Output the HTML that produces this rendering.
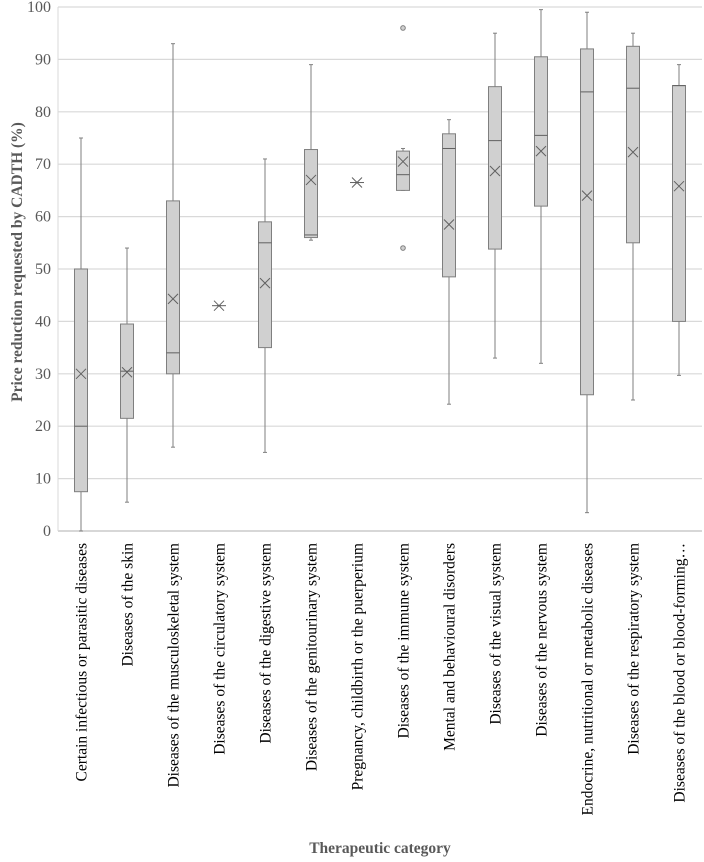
<!DOCTYPE html>
<html><head><meta charset="utf-8"><style>
body{margin:0;background:#fff}
svg text{font-family:"Liberation Serif",serif}
</style></head><body>
<svg id="c" width="704" height="857" xmlns="http://www.w3.org/2000/svg"></svg>
<script>
const categories=["Certain infectious or parasitic diseases","Diseases of the skin","Diseases of the musculoskeletal system","Diseases of the circulatory system","Diseases of the digestive system","Diseases of the genitourinary system","Pregnancy, childbirth or the puerperium","Diseases of the immune system","Mental and behavioural disorders","Diseases of the visual system","Diseases of the nervous system","Endocrine, nutritional or metabolic diseases","Diseases of the respiratory system","Diseases of the blood or blood-forming…"];
const mins=[0,5.5,16,43,15,55.5,66.5,65,24.2,33,32,3.5,25,29.7];
const q1s=[7.5,21.5,30,43,35,56,66.5,65,48.5,53.8,62,26,55,40];
const medians=[20,30.5,34,43,55,56.5,66.5,68,73,74.5,75.5,83.8,84.5,85];
const q3s=[50,39.5,63,43,59,72.8,66.5,72.5,75.8,84.8,90.5,92,92.5,85];
const maxs=[75,54,93,43,71,89,66.5,73,78.5,95,99.5,99,95,89];
const means=[30,30.3,44.3,43,47.3,67,66.5,70.5,58.5,68.7,72.5,64,72.3,65.8];
const outliers=[[],[],[],[],[],[],[],[96,54],[],[],[],[],[],[]];
const yTicks=[0,10,20,30,40,50,60,70,80,90,100];

const NS="http://www.w3.org/2000/svg",svg=document.getElementById('c');
const L=58,R=702,T=7,B=531;
const y=v=>B-(v/100)*(B-T);
const bw=(R-L)/categories.length;
const x=i=>L+bw*(i+0.5);
function mk(t,a,p){const e=document.createElementNS(NS,t);for(const k in a)e.setAttribute(k,a[k]);(p||svg).appendChild(e);return e;}
yTicks.forEach(v=>{
 const g=mk('line',{x1:L,x2:R,y1:y(v),y2:y(v),stroke:v===0?'#bfbfbf':'#d9d9d9','stroke-width':1.2});
 
 
 const t=mk('text',{x:L-7,y:y(v)+5,'text-anchor':'end','font-size':16,fill:'#595959'});
 t.textContent=v;
 
 
});
mk('line',{x1:L,x2:L,y1:T,y2:B,stroke:'#d9d9d9'});
categories.forEach((c,i)=>{
 const cx=x(i),g=mk('g',{});
 
 
 const s='#7f7f7f';
 mk('line',{x1:cx,x2:cx,y1:y(maxs[i]),y2:y(q3s[i]),stroke:s},g);
 mk('line',{x1:cx,x2:cx,y1:y(q1s[i]),y2:y(mins[i]),stroke:s},g);
 mk('line',{x1:cx-2,x2:cx+2,y1:y(maxs[i]),y2:y(maxs[i]),stroke:s},g);
 mk('line',{x1:cx-2,x2:cx+2,y1:y(mins[i]),y2:y(mins[i]),stroke:s},g);
 if(q3s[i]>q1s[i]){
  mk('rect',{x:cx-6.5,y:y(q3s[i]),width:13,height:y(q1s[i])-y(q3s[i]),fill:'#d0d0d0',stroke:s},g);
  mk('line',{x1:cx-6.5,x2:cx+6.5,y1:y(medians[i]),y2:y(medians[i]),stroke:'#606060'},g);
 }
 const my=y(means[i]);
 mk('path',{d:`M${cx-5} ${my-5}L${cx+5} ${my+5}M${cx-5} ${my+5}L${cx+5} ${my-5}`,stroke:'#606060',fill:'none'},g);
 if(q3s[i]===q1s[i]) mk('line',{x1:cx-7,x2:cx+7,y1:my,y2:my,stroke:'#606060'},g);
 outliers[i].forEach(o=>mk('circle',{cx:cx,cy:y(o),r:2.3,fill:'#d0d0d0',stroke:s},g));
 const t=mk('text',{transform:`translate(${cx+5.5},543) rotate(-90)`,'text-anchor':'end','font-size':15.5,fill:'#000'});
 t.textContent=c;
 
 
});
const yt=mk('text',{transform:'translate(22,262) rotate(-90)','text-anchor':'middle','font-size':15.5,'font-weight':'bold',fill:'#595959'});
yt.textContent='Price reduction requested by CADTH (%)';


const xt=mk('text',{x:380,y:853,'text-anchor':'middle','font-size':15.5,'font-weight':'bold',fill:'#595959'});
xt.textContent='Therapeutic category';


</script>
</body></html>
